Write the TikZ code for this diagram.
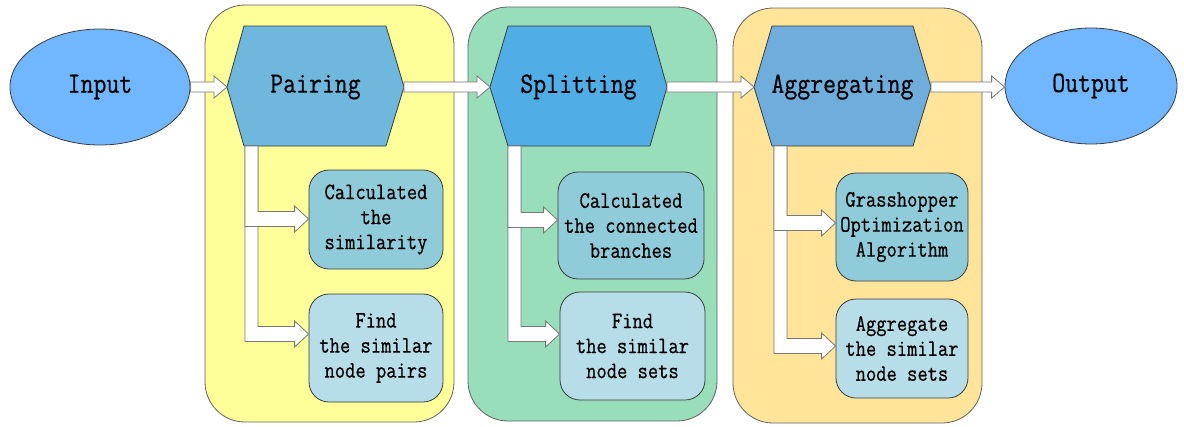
\documentclass[tikz,border=0pt]{standalone}
\usepackage{fontspec}
\newfontfamily\monof[FakeStretch=0.85,FakeBold=0.6]{Latin Modern Mono}
\usetikzlibrary{shapes.geometric,calc}
\definecolor{ellblue}{RGB}{112,183,255}
\definecolor{cyellow}{RGB}{255,255,153}
\definecolor{cgreen}{RGB}{153,222,187}
\definecolor{corange}{RGB}{255,228,153}
\definecolor{hexA}{RGB}{111,183,220}
\definecolor{hexB}{RGB}{80,173,230}
\definecolor{hexC}{RGB}{111,173,220}
\definecolor{boxA}{RGB}{144,203,218}
\definecolor{boxB}{RGB}{183,222,232}
\definecolor{edge}{RGB}{60,60,60}
\definecolor{arredge}{RGB}{120,120,120}
\tikzset{
  ell/.style={ellipse, draw=edge, line width=0.8pt, fill=ellblue, inner sep=0pt, font=\monof\fontsize{29.5}{32}\selectfont},
  container/.style={draw=edge!80, line width=0.8pt, rounded corners=40pt, minimum width=249pt},
  hexshape/.style={draw=edge, line width=0.8pt},
  hextext/.style={font=\monof\fontsize{29.5}{32}\selectfont},
  subbox/.style={draw=edge, line width=0.8pt, rounded corners=20pt, align=center, inner sep=0pt, font=\monof\fontsize{23.5}{25}\selectfont},
  hollow/.style={draw=arredge, line width=0.8pt, fill=white}
}
\newcommand\harrow[2]{\draw[hollow] let \p1=(#1), \p2=(#2) in
  (\x1,\y1+5pt) -- (\x2-13pt,\y1+5pt) -- (\x2-13pt,\y1+11pt) -- (\x2,\y1) -- (\x2-13pt,\y1-11pt) -- (\x2-13pt,\y1-5pt) -- (\x1,\y1-5pt) -- cycle;}
\newcommand\Larr[2]{\draw[hollow] let \p1=(#1), \p2=(#2) in
  (\x1,\y1) -- (\x1+13pt,\y1) -- (\x1+13pt,\y2+7.5pt) -- (\x2-14pt,\y2+7.5pt) -- (\x2-14pt,\y2+13pt) -- (\x2,\y2) -- (\x2-14pt,\y2-13pt) -- (\x2-14pt,\y2-7.5pt) -- (\x1,\y2-7.5pt) -- cycle;}
\begin{document}
\begin{tikzpicture}[x=1pt,y=-1pt]
\useasboundingbox (0,0) rectangle (1184,426);
% containers
\node[container, fill=cyellow, minimum height=417pt] (cP) at (329.5,213.5) {};
\node[container, fill=cgreen, minimum height=414pt] (cS) at (592.5,214) {};
\node[container, fill=corange, minimum height=415pt] (cA) at (857.5,215.5) {};
% ellipses
\node[ell, minimum width=180pt, minimum height=116pt] (in) at (100,87) {Input};
\node[ell, minimum width=172pt, minimum height=116pt] (out) at (1091,86) {Output};
% hexagons
\fill[hexA] (227,87) -- (244,26) -- (386,26) -- (404,87) -- (386,146) -- (244,146) -- cycle;
\draw[hexshape] (227,87) -- (244,26) -- (386,26) -- (404,87) -- (386,146) -- (244,146) -- cycle;
\node[hextext] (pair) at (315.5,87) {Pairing};
\fill[hexB] (490,87) -- (508,26) -- (650,26) -- (667,87) -- (650,146) -- (508,146) -- cycle;
\draw[hexshape] (490,87) -- (508,26) -- (650,26) -- (667,87) -- (650,146) -- (508,146) -- cycle;
\node[hextext] (split) at (578.5,87) {Splitting};
\fill[hexC] (754,87) -- (772,26) -- (913,26) -- (931,87) -- (913,146) -- (772,146) -- cycle;
\draw[hexshape] (754,87) -- (772,26) -- (913,26) -- (931,87) -- (913,146) -- (772,146) -- cycle;
\node[hextext] (agg) at (842.5,87) {Aggregating};
\coordinate (pairW) at (227,87); \coordinate (pairE) at (404,87);
\coordinate (splitW) at (490,87); \coordinate (splitE) at (667,87);
\coordinate (aggW) at (754,87); \coordinate (aggE) at (931,87);
% sub boxes
\node[subbox, fill=boxA, minimum width=134pt, minimum height=99pt] (p1) at (376,219.5) {Calculated\\the\\similarity};
\node[subbox, fill=boxB, minimum width=134pt, minimum height=108pt] (p2) at (376,348) {Find\\the similar\\node pairs};
\node[subbox, fill=boxA, minimum width=146pt, minimum height=107pt] (s1) at (631,225.5) {Calculated\\the connected\\branches};
\node[subbox, fill=boxB, minimum width=145pt, minimum height=108pt] (s2) at (632.5,346) {Find\\the similar\\node sets};
\node[subbox, fill=boxA, minimum width=132pt, minimum height=108pt] (a1) at (902,227) {Grasshopper\\Optimization\\Algorithm};
\node[subbox, fill=boxB, minimum width=132pt, minimum height=99pt] (a2) at (902,348.5) {Aggregate\\the similar\\node sets};
% horizontal arrows
\harrow{in.east}{pairW}
\harrow{pairE}{splitW}
\harrow{splitE}{aggW}
\harrow{aggE}{out.west}
% L arrows
\coordinate (pb) at (245,146); \coordinate (pt1) at (p1.west |- 0,219); \coordinate (pt2) at (p2.west |- 0,334);
\coordinate (sb) at (508,146); \coordinate (st1) at (s1.west |- 0,220); \coordinate (st2) at (s2.west |- 0,334);
\coordinate (ab) at (774,146); \coordinate (at1) at (a1.west |- 0,223); \coordinate (at2) at (a2.west |- 0,346);
\Larr{pb}{pt2}\Larr{pb}{pt1}
\Larr{sb}{st2}\Larr{sb}{st1}
\Larr{ab}{at2}\Larr{ab}{at1}
\end{tikzpicture}
\end{document}
